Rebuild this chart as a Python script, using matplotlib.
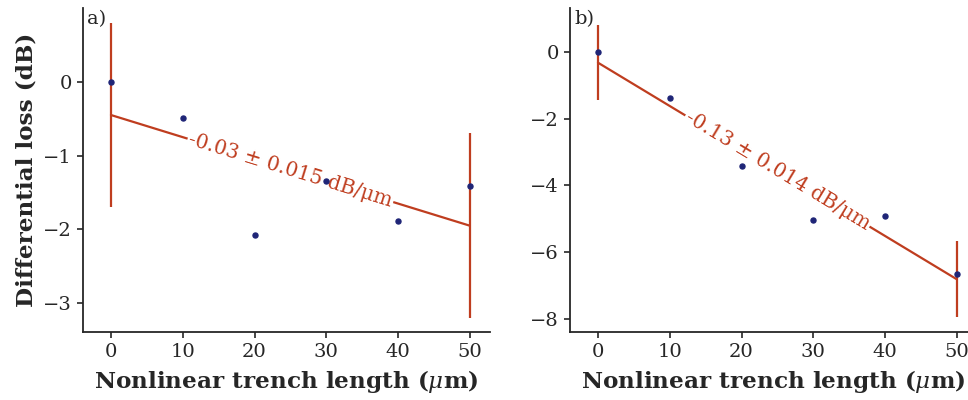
import numpy as np
import matplotlib
matplotlib.use('Agg')
import matplotlib.pyplot as plt
import seaborn as sns

sns.set_style('ticks')
plt.rcParams['font.family'] = ['DejaVu Serif']
plt.rcParams['mathtext.fontset'] = 'dejavuserif'

# data
length = [0, 10, 20, 30, 40, 50]
loss_a = [0.0, -0.49, -2.08, -1.35, -1.89, -1.41]
loss_b = [0.0, -1.37, -3.43, -5.03, -4.93, -6.67]

# linear fits (endpoints) and their uncertainty bars
fit_a = [-0.45, -1.95]
fit_b = [-0.32, -6.82]
err_a = [1.24, 1.25]
err_b = [1.13, 1.14]
label_a = '-0.03 ± 0.015 dB/μm'
label_b = '-0.13 ± 0.014 dB/μm'

red = '#bf3d1f'
navy = '#1f2577'

fig = plt.figure(figsize=(9.68, 4.0), dpi=100)
ax_a = fig.add_axes([0.0857, 0.17, 0.4205, 0.81])
ax_b = fig.add_axes([0.5888, 0.17, 0.4205, 0.81])


def panel(ax, y, fit, err, label, tag, ylim, yticks):
    xf = [length[0], length[-1]]
    ax.plot(xf, fit, color=red, lw=1.6, zorder=2)
    ax.errorbar(xf, fit, yerr=err, fmt='none', ecolor=red, elinewidth=1.6, capsize=0, zorder=2)
    ax.scatter(length, y, s=13, color=navy, zorder=4)
    ax.set_xlim(-3.9, 52.8)
    ax.set_ylim(*ylim)
    ax.set_xticks([0, 10, 20, 30, 40, 50])
    ax.set_yticks(yticks)
    ax.tick_params(labelsize=14, length=4.5, width=1.2, colors='0.15')
    for s in ['left', 'bottom']:
        ax.spines[s].set_linewidth(1.3)
        ax.spines[s].set_color('0.15')
    sns.despine(ax=ax)
    ax.set_xlabel(r'Nonlinear trench length ($\mu$m)', fontsize=16.7, fontweight='bold',
                  color='0.15', labelpad=5)
    # inline label along the fit line
    xm = 25
    ym = fit[0] + (fit[1] - fit[0]) * xm / 50
    ang = np.degrees(np.arctan2(fit[1] - fit[0], 50))
    ax.text(xm, ym, label, color=red, fontsize=14.5, ha='center', va='center',
            rotation=ang, transform_rotates_text=True, rotation_mode='anchor',
            bbox=dict(facecolor='white', edgecolor='none', pad=1), zorder=3)
    ax.text(0.01, 0.995, tag, transform=ax.transAxes, fontsize=14, va='top', ha='left', color='0.15')


panel(ax_a, loss_a, fit_a, err_a, label_a, 'a)', (-3.39, 1.0), [0, -1, -2, -3])
panel(ax_b, loss_b, fit_b, err_b, label_b, 'b)', (-8.4, 1.32), [0, -2, -4, -6, -8])
ax_a.set_ylabel('Differential loss (dB)', fontsize=16.7, fontweight='bold', color='0.15')

fig.savefig('out.png', dpi=100)
